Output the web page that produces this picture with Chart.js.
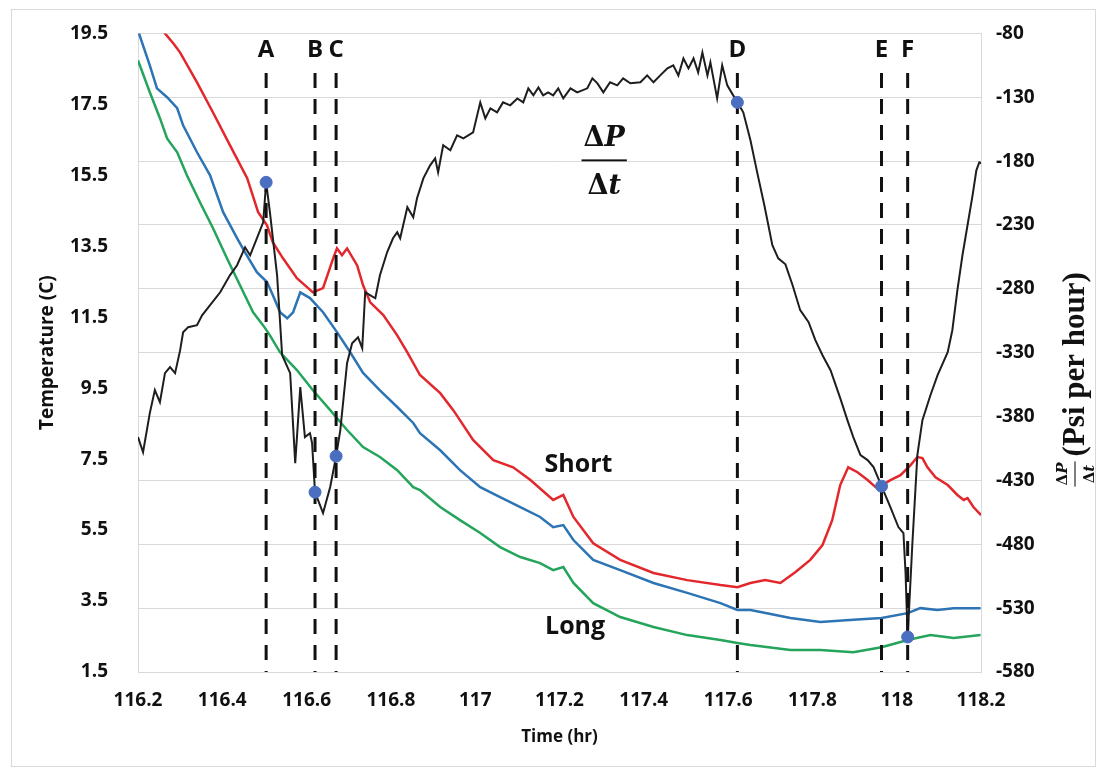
<!DOCTYPE html>
<html>
<head>
<meta charset="utf-8">
<script src="https://cdn.jsdelivr.net/npm/chart.js@4.4.1/dist/chart.umd.min.js"></script>
<style>
  html, body { margin: 0; padding: 0; background: #fff; }
  #wrap { position: relative; width: 1104px; height: 776px; }
  #cornice { position: absolute; left: 11px; top: 9px; width: 1083px; height: 756px; border: 1px solid #d9d9d9; pointer-events: none; }
  #grafico { position: absolute; left: 0; top: 0; }
</style>
</head>
<body>
<div id="wrap">
  <canvas id="grafico" width="1104" height="776"></canvas>
  <div id="cornice"></div>
</div>
<script>
// tick degli assi
const xTicks = [116.2, 116.4, 116.6, 116.8, 117, 117.2, 117.4, 117.6, 117.8, 118, 118.2];
const xTickLabels = ['116.2', '116.4', '116.6', '116.8', '117', '117.2', '117.4', '117.6', '117.8', '118', '118.2'];
const tempTicks = [1.5, 3.5, 5.5, 7.5, 9.5, 11.5, 13.5, 15.5, 17.5, 19.5];
const dpdtTicks = [-580, -530, -480, -430, -380, -330, -280, -230, -180, -130, -80];

// sensore "Short" (rosso)
const shortTime = [116.200, 116.264, 116.285, 116.300, 116.340, 116.378, 116.418, 116.459, 116.485, 116.506,
  116.520, 116.544, 116.577, 116.615, 116.639, 116.663, 116.672, 116.684, 116.696, 116.720,
  116.734, 116.751, 116.782, 116.815, 116.839, 116.869, 116.917, 116.948, 116.995, 117.043,
  117.090, 117.131, 117.185, 117.209, 117.233, 117.280, 117.344, 117.423, 117.503, 117.582,
  117.622, 117.653, 117.688, 117.724, 117.760, 117.795, 117.824, 117.847, 117.866, 117.885,
  117.907, 117.931, 117.950, 117.966, 117.985, 118.009, 118.033, 118.049, 118.061, 118.073,
  118.092, 118.121, 118.144, 118.159, 118.168, 118.182, 118.200];
const shortTemp = [20.5, 19.5, 19.2, 18.96, 18.12, 17.27, 16.35, 15.42, 14.46, 14.09,
  13.61, 13.16, 12.60, 12.20, 12.32, 13.16, 13.44, 13.25, 13.44, 12.96,
  12.40, 11.92, 11.56, 10.99, 10.51, 9.87, 9.36, 8.88, 8.04, 7.47,
  7.27, 6.91, 6.35, 6.49, 5.87, 5.13, 4.66, 4.29, 4.09, 3.95,
  3.89, 4.01, 4.09, 4.01, 4.32, 4.66, 5.08, 5.78, 6.77, 7.27,
  7.13, 6.91, 6.71, 6.77, 6.91, 7.05, 7.33, 7.56, 7.53, 7.27,
  6.99, 6.77, 6.49, 6.35, 6.40, 6.15, 5.92];

// sensore intermedio (blu)
const midTime = [116.200, 116.228, 116.245, 116.269, 116.293, 116.307, 116.340, 116.371, 116.402, 116.435,
  116.454, 116.482, 116.506, 116.520, 116.537, 116.554, 116.568, 116.585, 116.608, 116.639,
  116.672, 116.703, 116.734, 116.774, 116.815, 116.853, 116.869, 116.917, 116.964, 117.012,
  117.059, 117.107, 117.154, 117.185, 117.209, 117.233, 117.280, 117.344, 117.423, 117.503,
  117.582, 117.622, 117.653, 117.677, 117.748, 117.819, 117.897, 117.964, 118.026, 118.056,
  118.097, 118.135, 118.199];
const midTemp = [19.58, 18.60, 17.95, 17.70, 17.39, 16.91, 16.15, 15.50, 14.46, 13.73,
  13.33, 12.77, 12.49, 12.12, 11.64, 11.47, 11.64, 12.20, 12.04, 11.64,
  11.08, 10.52, 9.93, 9.44, 8.97, 8.52, 8.23, 7.75, 7.19, 6.71,
  6.43, 6.15, 5.87, 5.58, 5.64, 5.22, 4.66, 4.37, 4.01, 3.73,
  3.44, 3.25, 3.25, 3.19, 3.02, 2.91, 2.97, 3.02, 3.16, 3.30,
  3.25, 3.30, 3.30];

// sensore "Long" (verde)
const longTime = [116.200, 116.228, 116.252, 116.269, 116.293, 116.316, 116.347, 116.378, 116.411, 116.442,
  116.473, 116.497, 116.513, 116.537, 116.577, 116.615, 116.656, 116.696, 116.734, 116.774,
  116.815, 116.853, 116.869, 116.917, 116.964, 117.012, 117.059, 117.107, 117.154, 117.185,
  117.209, 117.233, 117.280, 117.344, 117.423, 117.503, 117.582, 117.622, 117.653, 117.748,
  117.819, 117.897, 117.964, 118.026, 118.080, 118.135, 118.199];
const longTemp = [18.74, 17.84, 17.11, 16.54, 16.15, 15.50, 14.74, 14.01, 13.16, 12.40,
  11.64, 11.27, 10.99, 10.51, 10.01, 9.44, 8.88, 8.32, 7.84, 7.56,
  7.19, 6.71, 6.63, 6.15, 5.78, 5.42, 5.02, 4.74, 4.57, 4.37,
  4.46, 4.01, 3.44, 3.05, 2.77, 2.54, 2.40, 2.32, 2.26, 2.12,
  2.12, 2.06, 2.20, 2.40, 2.54, 2.46, 2.54];

// dP/dt (nero, asse destro)
const dpdtTime = [116.200, 116.212, 116.228, 116.240, 116.252, 116.264, 116.276, 116.288, 116.300, 116.307,
  116.319, 116.340, 116.352, 116.371, 116.395, 116.418, 116.435, 116.454, 116.466, 116.482,
  116.497, 116.504, 116.513, 116.530, 116.542, 116.561, 116.573, 116.585, 116.596, 116.608,
  116.613, 116.620, 116.639, 116.656, 116.670, 116.680, 116.696, 116.708, 116.722, 116.732,
  116.739, 116.763, 116.774, 116.791, 116.805, 116.815, 116.822, 116.839, 116.853, 116.862,
  116.877, 116.893, 116.905, 116.912, 116.924, 116.941, 116.957, 116.972, 116.995, 117.012,
  117.024, 117.036, 117.052, 117.066, 117.083, 117.100, 117.114, 117.126, 117.138, 117.150,
  117.161, 117.173, 117.185, 117.197, 117.209, 117.226, 117.242, 117.266, 117.278, 117.290,
  117.304, 117.320, 117.337, 117.351, 117.368, 117.392, 117.408, 117.423, 117.439, 117.456,
  117.470, 117.482, 117.494, 117.506, 117.518, 117.529, 117.539, 117.551, 117.558, 117.574,
  117.586, 117.598, 117.622, 117.636, 117.653, 117.669, 117.686, 117.705, 117.719, 117.736,
  117.753, 117.771, 117.791, 117.807, 117.824, 117.843, 117.866, 117.883, 117.897, 117.914,
  117.931, 117.945, 117.964, 117.985, 118.004, 118.016, 118.021, 118.026, 118.037, 118.049,
  118.061, 118.080, 118.097, 118.121, 118.132, 118.144, 118.156, 118.168, 118.180, 118.189,
  118.196, 118.201];
const dpdtValue = [-396.1, -407.9, -377.3, -359.3, -368.7, -346.0, -341.3, -346.0, -328.0, -314.0,
  -310.0, -308.5, -300.7, -292.8, -282.7, -269.4, -261.5, -247.5, -253.7, -240.4,
  -227.9, -196.6, -220.1, -269.4, -332.0, -346.0, -416.5, -357.0, -396.1, -393.0,
  -400.8, -439.2, -455.6, -435.2, -411.0, -390.6, -338.2, -322.6, -317.9, -326.5,
  -282.7, -287.4, -269.4, -251.4, -240.4, -235.7, -240.4, -216.1, -224.0, -209.1,
  -193.5, -183.3, -177.8, -188.8, -167.6, -171.5, -159.8, -162.2, -157.5, -134.0,
  -146.5, -138.7, -141.8, -134.0, -136.3, -130.9, -134.0, -123.0, -128.5, -122.3,
  -128.5, -126.2, -128.5, -123.0, -130.9, -123.0, -126.2, -123.0, -115.2, -119.1,
  -126.2, -118.3, -120.7, -115.2, -119.1, -118.3, -112.9, -118.3, -112.9, -107.4,
  -105.0, -112.9, -99.6, -107.4, -99.6, -110.5, -94.9, -112.9, -102.7, -130.9,
  -105.0, -120.7, -134.0, -141.8, -163.7, -188.8, -214.6, -245.9, -256.1, -260.8,
  -277.2, -296.7, -306.1, -320.2, -332.0, -343.7, -365.6, -382.8, -396.1, -410.2,
  -414.1, -419.6, -434.5, -450.9, -466.5, -471.2, -502.5, -552.6, -480.6, -410.2,
  -382.8, -363.3, -347.6, -329.6, -312.4, -281.1, -253.7, -230.2, -206.8, -187.2,
  -180.9, -181.7];

// eventi A-F (linee tratteggiate e punti blu sul dP/dt)
const eventLabels = ['A', 'B', 'C', 'D', 'E', 'F'];
const eventTime = [116.504, 116.620, 116.670, 117.622, 117.964, 118.026];
const eventDpdt = [-196.6, -439.2, -411.0, -134.0, -434.5, -552.6];
const eventTop = -111;      // inizio tratteggio (unità asse destro)
const eventBottom = -580;
const eventLabelLevel = -93;

// scritte nel grafico (unità: tempo, temperatura)
const noteText = ['Short', 'Long'];
const noteTime = [117.245, 117.237];
const noteTemp = [7.33, 2.77];
// frazione dP/dt dentro il grafico (tempo, valore asse destro della barra)
const fracTime = 117.306;
const fracDpdt = -179.4;

const sans = "'Open Sans', sans-serif";
const serif = "'DejaVu Serif', serif";

function punti(xs, ys) {
  return xs.map((x, i) => ({x: x, y: ys[i]}));
}

// disegna ΔP / Δt con Δ dritto e lettera in corsivo
function scriviDelta(ctx, lettera, cx, base, size) {
  const fUp = `bold ${size}px ${serif}`;
  const fIt = `italic bold ${size}px ${serif}`;
  ctx.font = fUp;
  const wD = ctx.measureText('\u0394').width;
  ctx.font = fIt;
  const wL = ctx.measureText(lettera).width;
  const x0 = cx - (wD + wL) / 2;
  ctx.textAlign = 'left';
  ctx.textBaseline = 'alphabetic';
  ctx.font = fUp;
  ctx.fillText('\u0394', x0, base);
  ctx.font = fIt;
  ctx.fillText(lettera, x0 + wD, base);
  return wD + wL;
}

function frazione(ctx, cx, cy, size) {
  const w1 = scriviDelta(ctx, 'P', cx, cy - size * 0.55, size);
  const w2 = scriviDelta(ctx, 't', cx, cy + size * 1.26, size);
  const w = Math.max(w1, w2) + size * 0.15;
  ctx.fillRect(cx - w / 2, cy - Math.max(1, size / 14) / 2, w, Math.max(1, size / 14));
  return w;
}

const pluginScritte = {
  id: 'scritte',
  afterDatasetsDraw(chart) {
    const ctx = chart.ctx;
    const sx = chart.scales.x, sy = chart.scales.y, sy1 = chart.scales.y1;
    ctx.save();
    ctx.fillStyle = '#111';
    // lettere degli eventi
    ctx.font = `bold 24px ${sans}`;
    ctx.textAlign = 'center';
    ctx.textBaseline = 'middle';
    eventLabels.forEach((l, i) => {
      ctx.fillText(l, sx.getPixelForValue(eventTime[i]), sy1.getPixelForValue(eventLabelLevel));
    });
    // Short / Long
    ctx.font = `bold 25px ${sans}`;
    noteText.forEach((t, i) => {
      ctx.fillText(t, sx.getPixelForValue(noteTime[i]), sy.getPixelForValue(noteTemp[i]));
    });
    // frazione
    frazione(ctx, sx.getPixelForValue(fracTime), sy1.getPixelForValue(fracDpdt), 27);
    ctx.restore();
  },
  afterDraw(chart) {
    // titolo asse destro, letto dal basso verso l'alto
    const ctx = chart.ctx;
    const sy1 = chart.scales.y1;
    ctx.save();
    ctx.fillStyle = '#111';
    ctx.translate(sy1.right - 29, 488);
    ctx.rotate(-Math.PI / 2);
    const w = frazione(ctx, 14, 0, 15);
    ctx.font = `bold 31px 'Liberation Serif', serif`;
    ctx.textAlign = 'left';
    ctx.textBaseline = 'middle';
    ctx.fillText('(Psi per hour)', 14 + w / 2 + 5, 1);
    ctx.restore();
  }
};

const datasets = [
  {
    label: 'Eventi',
    data: punti(eventTime, eventDpdt),
    yAxisID: 'y1',
    showLine: false,
    pointRadius: 6,
    pointBackgroundColor: '#4a6fc1',
    pointBorderColor: '#4a6fc1',
    order: 0
  }
];
eventTime.forEach((t, i) => {
  datasets.push({
    label: 'evento ' + eventLabels[i],
    data: [{x: t, y: eventTop}, {x: t, y: eventBottom}],
    yAxisID: 'y1',
    borderColor: '#111',
    borderWidth: 3,
    borderDash: [15, 11],
    pointRadius: 0,
    order: 1
  });
});
datasets.push(
  { label: 'dP/dt', data: punti(dpdtTime, dpdtValue), yAxisID: 'y1', borderColor: '#1e1e1e', borderWidth: 2, pointRadius: 0, order: 2 },
  { label: 'Short', data: punti(shortTime, shortTemp), yAxisID: 'y', borderColor: '#e2282c', borderWidth: 2.5, pointRadius: 0, order: 3 },
  { label: 'Mid', data: punti(midTime, midTemp), yAxisID: 'y', borderColor: '#2d74b5', borderWidth: 2.5, pointRadius: 0, order: 4 },
  { label: 'Long', data: punti(longTime, longTemp), yAxisID: 'y', borderColor: '#25a45c', borderWidth: 2.5, pointRadius: 0, order: 5 }
);

const tickFont = { family: sans, size: 19, weight: 'bold' };

new Chart(document.getElementById('grafico'), {
  type: 'line',
  data: { datasets: datasets },
  options: {
    responsive: false,
    animation: false,
    devicePixelRatio: 1,
    layout: { padding: { top: 33, left: 0, right: 0, bottom: 0 } },
    elements: { line: { tension: 0 } },
    plugins: { legend: { display: false }, tooltip: { enabled: false } },
    scales: {
      x: {
        type: 'linear',
        min: 116.2, max: 118.2,
        afterBuildTicks: s => { s.ticks = xTicks.map(v => ({value: v})); },
        afterFit: s => { s.height = 104; },
        grid: { display: false },
        border: { display: false },
        ticks: { color: '#111', font: tickFont, padding: 9, maxRotation: 0, autoSkip: false,
                 callback: (v, i) => xTickLabels[i] },
        title: { display: true, text: 'Time (hr)', color: '#111',
                 font: { family: sans, size: 17, weight: 'bold' }, padding: { top: 0, bottom: 29 } }
      },
      y: {
        position: 'left',
        min: 1.5, max: 19.5,
        afterBuildTicks: s => { s.ticks = tempTicks.map(v => ({value: v})); },
        afterFit: s => { s.width = 138; },
        grid: { display: false },
        border: { display: true, color: '#d9d9d9', width: 1 },
        ticks: { color: '#111', font: tickFont, padding: 22, autoSkip: false,
                 callback: v => v.toFixed(1) },
        title: { display: true, text: 'Temperature (C)', color: '#111',
                 font: { family: sans, size: 19, weight: 'bold' }, padding: { top: 36, bottom: 0 } }
      },
      y1: {
        position: 'right',
        min: -580, max: -80,
        afterBuildTicks: s => { s.ticks = dpdtTicks.map(v => ({value: v})); },
        afterFit: s => { s.width = 123; },
        grid: { display: true, color: '#d9d9d9', lineWidth: 1, drawTicks: false },
        border: { display: true, color: '#d9d9d9', width: 1 },
        ticks: { color: '#111', font: tickFont, padding: 15, autoSkip: false,
                 callback: v => String(v) }
      }
    }
  },
  plugins: [pluginScritte]
});
</script>
</body>
</html>
